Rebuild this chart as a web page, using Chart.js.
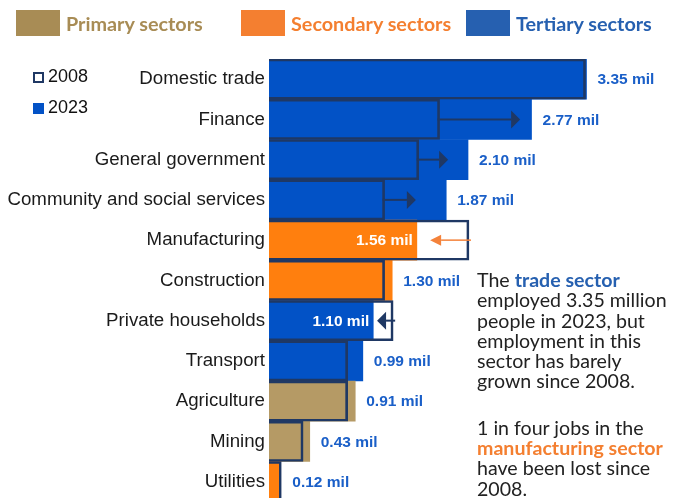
<!DOCTYPE html>
<html>
<head>
<meta charset="utf-8">
<script src="https://cdn.jsdelivr.net/npm/chart.js@4.4.1/dist/chart.umd.min.js"></script>
<style>
  html, body { margin: 0; padding: 0; background: #fff; overflow: hidden; }
  #jobsChart { position: absolute; left: 0; top: 0; }
  .sector { position: absolute; top: 10px; height: 26px; font: bold 19.8px Lato, sans-serif; line-height: 26px; }
  .sector span.box { position: absolute; left: 0; top: 0; width: 44px; height: 26px; }
  .sector span.txt { position: absolute; left: 50px; top: 0; white-space: nowrap; }
  .year { position: absolute; left: 33px; font: 18px "Liberation Sans", Arial, sans-serif; color: #111; }
  .year i { position: absolute; left: 0; width: 11px; height: 11px; box-sizing: border-box; }
  .year b { position: absolute; left: 15px; font-weight: normal; }
  #note { position: absolute; left: 477px; top: 270px; font: 19.6px Lato, sans-serif; line-height: 20.3px; color: #222; white-space: nowrap; }
  #note p { margin: 0 0 26px 0; }
</style>
</head>
<body>
<!-- canvas runs a little past the window bottom, as the last row is cut in the original -->
<canvas id="jobsChart" width="686" height="517"></canvas>

<div class="sector" style="left:16px;color:#a88c55"><span class="box" style="background:#a88c55"></span><span class="txt">Primary sectors</span></div>
<div class="sector" style="left:241px;color:#f47f30"><span class="box" style="background:#f47f30"></span><span class="txt">Secondary sectors</span></div>
<div class="sector" style="left:466px;color:#2660b0"><span class="box" style="background:#2660b0"></span><span class="txt">Tertiary sectors</span></div>

<div class="year" style="top:68px"><i style="top:4px;border:2px solid #1f3864;background:#fff"></i><b style="top:-2px">2008</b></div>
<div class="year" style="top:99px"><i style="top:4px;background:#0252c6"></i><b style="top:-2px">2023</b></div>

<div id="note">
  <p>The <b style="color:#2660b0">trade sector</b><br>employed 3.35 million<br>people in 2023, but<br>employment in this<br>sector has barely<br>grown since 2008.</p>
  <p>1 in four jobs in the<br><b style="color:#f47f30">manufacturing sector</b><br>have been lost since<br>2008.</p>
</div>

<script>
// employment by sector, millions
const categories = ['Domestic trade', 'Finance', 'General government', 'Community and social services',
  'Manufacturing', 'Construction', 'Private households', 'Transport', 'Agriculture', 'Mining', 'Utilities'];
const sectors = ['T', 'T', 'T', 'T', 'S', 'S', 'T', 'T', 'P', 'P', 'S'];
const jobs2023 = [3.35, 2.77, 2.10, 1.87, 1.56, 1.30, 1.10, 0.99, 0.91, 0.43, 0.12];
const jobs2008 = [3.34, 1.80, 1.58, 1.22, 2.11, 1.22, 1.31, 0.83, 0.83, 0.36, 0.13];
// where the change arrows stop (null = no arrow)
const arrowTo = [null, 2.65, 1.89, 1.55, 1.70, null, 1.14, null, null, null, null];

const barColor = { P: '#b59a65', S: '#ff7f0e', T: '#0252c6' };
const navy = '#1f3864';

const labelsAndArrows = {
  id: 'labelsAndArrows',
  afterDatasetsDraw(chart) {
    const ctx = chart.ctx;
    const x = chart.scales.x, y = chart.scales.y;
    ctx.save();
    ctx.font = 'bold 15.5px "Liberation Sans", Arial, sans-serif';
    ctx.textBaseline = 'middle';
    categories.forEach((c, i) => {
      const yc = y.getPixelForValue(i);
      const x23 = x.getPixelForValue(jobs2023[i]);
      const x08 = x.getPixelForValue(jobs2008[i]);
      const txt = jobs2023[i].toFixed(2) + ' mil';
      if (jobs2008[i] - jobs2023[i] > 0.1) {
        ctx.fillStyle = '#fff';
        ctx.textAlign = 'right';
        ctx.fillText(txt, x23 - 4, yc + 1);
      } else {
        ctx.fillStyle = '#1a5fc8';
        ctx.textAlign = 'left';
        ctx.fillText(txt, Math.max(x23, x08) + 11, yc + 1);
      }
      if (arrowTo[i] != null) {
        const tip = x.getPixelForValue(arrowTo[i]);
        const dir = tip > x08 ? 1 : -1;
        const orange = sectors[i] === 'S';
        const len = orange ? 11 : 9, half = orange ? 5.5 : 9;
        ctx.strokeStyle = orange ? '#f4823a' : navy;
        ctx.fillStyle = ctx.strokeStyle;
        ctx.lineWidth = orange ? 1.5 : 2;
        ctx.beginPath();
        ctx.moveTo(x08 - dir * 2, yc);
        ctx.lineTo(tip - dir * len, yc);
        ctx.stroke();
        ctx.beginPath();
        ctx.moveTo(tip, yc);
        ctx.lineTo(tip - dir * len, yc - half);
        ctx.lineTo(tip - dir * len, yc + half);
        ctx.closePath();
        ctx.fill();
      }
    });
    ctx.restore();
  }
};

new Chart(document.getElementById('jobsChart'), {
  type: 'bar',
  data: {
    labels: categories,
    datasets: [
      { // 2008 outline on top
        label: '2008',
        data: jobs2008,
        backgroundColor: 'rgba(0,0,0,0)',
        borderColor: navy,
        borderWidth: 2,
        grouped: false,
        barPercentage: 1, categoryPercentage: 1
      },
      {
        label: '2023',
        data: jobs2023,
        backgroundColor: sectors.map(s => barColor[s]),
        borderWidth: 0,
        grouped: false,
        barPercentage: 1, categoryPercentage: 1
      },
      { // 2008 white fill underneath
        label: '2008 fill',
        data: jobs2008,
        backgroundColor: '#fff',
        borderWidth: 0,
        grouped: false,
        barPercentage: 1, categoryPercentage: 1
      }
    ]
  },
  options: {
    indexAxis: 'y',
    responsive: false,
    animation: false,
    layout: { padding: { top: 59, bottom: 2, left: 0, right: 0 } },
    scales: {
      x: { display: false, min: 0, max: 4.4 },
      y: {
        grid: { display: false, drawTicks: false },
        border: { display: false },
        ticks: {
          color: '#1a1a1a',
          padding: 4,
          font: { family: '"Liberation Sans", Arial, sans-serif', size: 18.7 }
        },
        afterFit(scale) { scale.width = 269; }
      }
    },
    plugins: {
      legend: { display: false },
      tooltip: { enabled: false }
    }
  },
  plugins: [labelsAndArrows]
});
</script>
</body>
</html>
